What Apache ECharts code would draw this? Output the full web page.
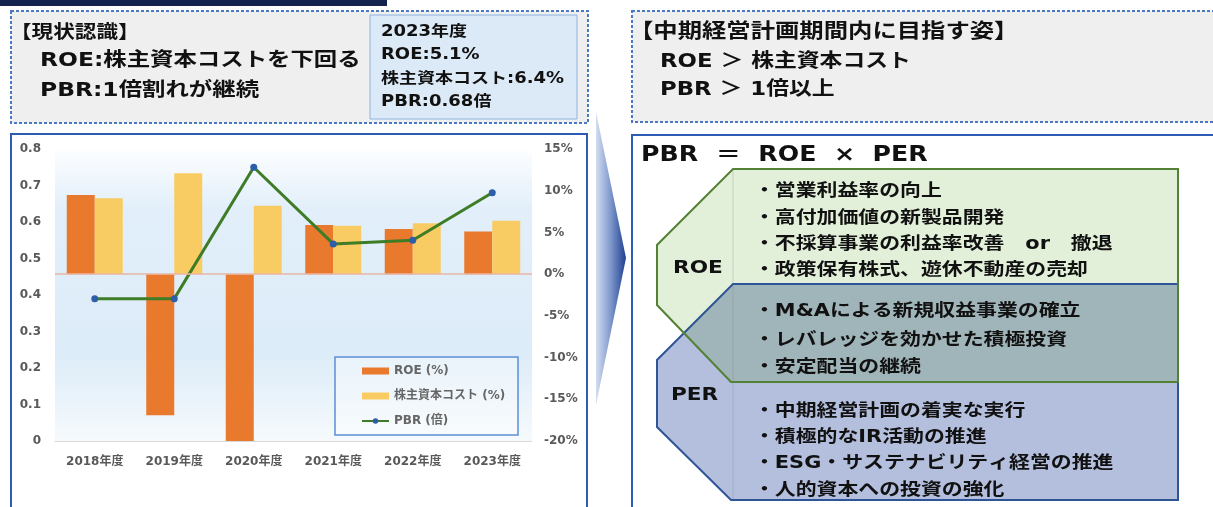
<!DOCTYPE html>
<html>
<head>
<meta charset="utf-8">
<script src="https://cdn.jsdelivr.net/npm/echarts@6/dist/echarts.min.js"></script>
<style>
  html, body { margin: 0; padding: 0; background: #fff; }
  #main { width: 1213px; height: 507px; }
</style>
</head>
<body>
<div id="main"></div>
<script>
// values
const categories = ["2018年度", "2019年度", "2020年度", "2021年度", "2022年度", "2023年度"];
const roe = [9.5, -16.9, -20.0, 5.9, 5.4, 5.1];          // %
const equityCost = [9.1, 12.1, 8.2, 5.8, 6.1, 6.4];      // %
const pbr = [0.39, 0.39, 0.75, 0.54, 0.55, 0.68];        // 倍

const roeMeasures = [
  "・営業利益率の向上",
  "・高付加価値の新製品開発",
  "・不採算事業の利益率改善　or　撤退",
  "・政策保有株式、遊休不動産の売却"
];
const sharedMeasures = [
  "・M&Aによる新規収益事業の確立",
  "・レバレッジを効かせた積極投資",
  "・安定配当の継続"
];
const perMeasures = [
  "・中期経営計画の着実な実行",
  "・積極的なIR活動の推進",
  "・ESG・サステナビリティ経営の推進",
  "・人的資本への投資の強化"
];

const FONT = '"DejaVu Sans", "Noto Sans CJK JP", sans-serif';
const SX = 1.2; // the source image is a bit stretched sideways

function txt(x, y, text, size, extra) {
  return Object.assign({
    type: "text", x: x, y: y, scaleX: SX, z: 10,
    style: {
      text: text, fill: "#111",
      font: "bold " + size + "px " + FONT,
      align: "left", verticalAlign: "middle"
    }
  }, extra || {});
}

const graphics = [
  // navy strip at the very top
  { type: "rect", shape: { x: 0, y: 0, width: 387, height: 6 }, style: { fill: "#13224d" } },
  // left status box
  { type: "rect", shape: { x: 11, y: 11, width: 577, height: 112 },
    style: { fill: "#efefef", stroke: "#4a78c4", lineWidth: 2, lineDash: [3, 2] } },
  { type: "rect", shape: { x: 370, y: 15, width: 207, height: 104 },
    style: { fill: "#dce9f6", stroke: "#8fb3e0", lineWidth: 1 } },
  txt(10, 33, "【現状認識】", 18),
  txt(40, 61, "ROE:株主資本コストを下回る", 19.5),
  txt(40, 91, "PBR:1倍割れが継続", 19.5),
  txt(381, 32, "2023年度", 15),
  txt(381, 55, "ROE:5.1%", 15),
  txt(381, 79, "株主資本コスト:6.4%", 15),
  txt(381, 102, "PBR:0.68倍", 15),
  // chart frame
  { type: "rect", shape: { x: 11, y: 134, width: 576, height: 400 },
    style: { fill: "none", stroke: "#2d5cb5", lineWidth: 2 } },
  // legend frame
  { type: "rect", z: 3, shape: { x: 335, y: 357, width: 183, height: 78 },
    style: { fill: "rgba(255,255,255,0.35)", stroke: "#5b8fd6", lineWidth: 1.5 } },
  // arrow
  { type: "polygon", shape: { points: [[596, 112], [626, 258], [596, 405]] },
    style: { fill: new echarts.graphic.LinearGradient(0, 0, 1, 0, [
      { offset: 0, color: "#d3ddf0" }, { offset: 0.5, color: "#7d96cb" }, { offset: 1, color: "#1f3f8f" }
    ]) } },
  // right target box
  { type: "rect", shape: { x: 632, y: 11, width: 600, height: 111 },
    style: { fill: "#efefef", stroke: "#4a78c4", lineWidth: 2, lineDash: [3, 2] } },
  txt(629, 33, "【中期経営計画期間内に目指す姿】", 20.3),
  txt(660, 62, "ROE ＞ 株主資本コスト", 19),
  txt(660, 90, "PBR ＞ 1倍以上", 19),
  // right formula box
  { type: "rect", shape: { x: 632, y: 135, width: 600, height: 400 },
    style: { fill: "none", stroke: "#2d5cb5", lineWidth: 2 } },
  txt(641, 156, "PBR  ＝  ROE  ×  PER", 21),
  // ROE / PER shapes
  { type: "polygon", shape: { points: [[733, 169], [1178, 169], [1178, 382], [731, 382], [657, 305], [657, 245]] },
    style: { fill: "#e2efd9" } },
  { type: "polygon", shape: { points: [[733, 284], [1178, 284], [1178, 500], [731, 500], [657, 427], [657, 360]] },
    style: { fill: "#b3bfdd" } },
  { type: "polygon", shape: { points: [[733, 284], [1178, 284], [1178, 382], [731, 382], [684, 333]] },
    style: { fill: "#a0b5b9" } },
  { type: "line", shape: { x1: 733, y1: 169, x2: 733, y2: 500 },
    style: { stroke: "rgba(120,120,120,0.25)", lineWidth: 1 } },
  { type: "polygon", shape: { points: [[733, 284], [1178, 284], [1178, 500], [731, 500], [657, 427], [657, 360]] },
    style: { fill: "none", stroke: "#2f5597", lineWidth: 2 } },
  { type: "polygon", shape: { points: [[733, 169], [1178, 169], [1178, 382], [731, 382], [657, 305], [657, 245]] },
    style: { fill: "none", stroke: "#538135", lineWidth: 2 } },
  txt(673, 268, "ROE", 18),
  txt(671, 395, "PER", 18)
];

[191, 218, 244, 270].forEach(function (y, i) { graphics.push(txt(754, y, roeMeasures[i], 17.4)); });
[311, 340, 367].forEach(function (y, i) { graphics.push(txt(754, y, sharedMeasures[i], 17.4)); });
[411, 437, 463, 490].forEach(function (y, i) { graphics.push(txt(754, y, perMeasures[i], 17.4)); });

const axisLabel = { color: "#595959", fontSize: 12, fontWeight: "bold", fontFamily: FONT };

const option = {
  animation: false,
  textStyle: { fontFamily: FONT },
  graphic: { elements: graphics },
  grid: {
    left: 55, right: 681, top: 149, bottom: 66,
    show: true, borderWidth: 0,
    backgroundColor: new echarts.graphic.LinearGradient(0, 0, 0, 1, [
      { offset: 0, color: "#fdfeff" },
      { offset: 0.2, color: "#e2effa" },
      { offset: 0.7, color: "#dcecf8" },
      { offset: 1, color: "#f6fafd" }
    ])
  },
  legend: {
    orient: "vertical", left: 361, top: 364, padding: 0,
    itemWidth: 27, itemHeight: 7, itemGap: 11,
    textStyle: { color: "#666", fontSize: 12, fontWeight: "bold", fontFamily: FONT, lineHeight: 14 },
    data: [
      { name: "ROE (%)", icon: "rect" },
      { name: "株主資本コスト (%)", icon: "rect" },
      "PBR (倍)"
    ]
  },
  xAxis: {
    type: "category",
    data: categories,
    axisLine: { lineStyle: { color: "#d9d9d9" } },
    axisTick: { show: false },
    axisLabel: Object.assign({ margin: 15 }, axisLabel)
  },
  yAxis: [
    {
      type: "value", min: 0, max: 0.8, interval: 0.1,
      splitLine: { show: false }, axisLine: { show: false }, axisTick: { show: false },
      axisLabel: Object.assign({ margin: 14, formatter: function (v) { return v === 0 ? "0" : v.toFixed(1); } }, axisLabel)
    },
    {
      type: "value", min: -20, max: 15, interval: 5,
      splitLine: { show: false }, axisLine: { show: false }, axisTick: { show: false },
      axisLabel: Object.assign({ margin: 12, formatter: "{value}%" }, axisLabel)
    }
  ],
  series: [
    {
      name: "ROE (%)", type: "bar", yAxisIndex: 1, data: roe,
      barWidth: 28, barGap: "0%",
      itemStyle: { color: "#e8792d" },
      markLine: {
        silent: true, symbol: "none", label: { show: false },
        lineStyle: { color: "#e9b6a4", width: 1.5, type: "solid" },
        data: [{ yAxis: 0 }]
      }
    },
    {
      name: "株主資本コスト (%)", type: "bar", yAxisIndex: 1, data: equityCost,
      barWidth: 28, barGap: "0%",
      itemStyle: { color: "#f9cc63" }
    },
    {
      name: "PBR (倍)", type: "line", yAxisIndex: 0, data: pbr,
      symbol: "circle", symbolSize: 7,
      lineStyle: { color: "#3e7c27", width: 3 },
      itemStyle: { color: "#2c5ea9" }
    }
  ]
};

const chart = echarts.init(document.getElementById("main"));
chart.setOption(option);
</script>
</body>
</html>
